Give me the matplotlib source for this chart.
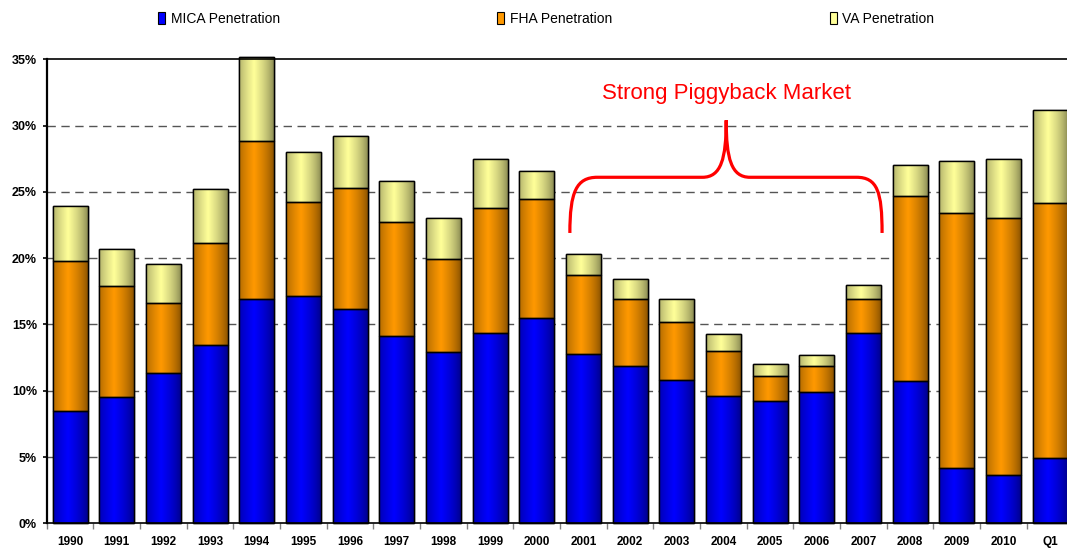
import numpy as np
import matplotlib
matplotlib.use("Agg")
import matplotlib.pyplot as plt
import matplotlib.patches as mpatches
from matplotlib.path import Path
from matplotlib.colors import to_rgb

plt.rcParams['font.family'] = ['Liberation Sans', 'DejaVu Sans']

years = ['1990', '1991', '1992', '1993', '1994', '1995', '1996', '1997', '1998', '1999', '2000',
         '2001', '2002', '2003', '2004', '2005', '2006', '2007', '2008', '2009', '2010', 'Q1']
mica = [8.5, 9.55, 11.35, 13.45, 16.95, 17.15, 16.15, 14.1, 12.9, 14.35, 15.5,
        12.8, 11.85, 10.8, 9.6, 9.2, 9.9, 14.35, 10.7, 4.15, 3.65, 4.9]
fha = [11.3, 8.35, 5.3, 7.7, 11.9, 7.1, 9.15, 8.6, 7.05, 9.4, 8.95,
       5.95, 5.1, 4.4, 3.4, 1.9, 1.95, 2.6, 14.0, 19.25, 19.35, 19.25]
va = [4.15, 2.8, 2.9, 4.05, 6.35, 3.75, 3.95, 3.1, 3.05, 3.75, 2.1,
      1.55, 1.5, 1.75, 1.25, 0.95, 0.85, 1.05, 2.3, 3.9, 4.5, 7.0]

series = [('MICA Penetration', mica, '#0000FF'),
          ('FHA Penetration', fha, '#FF9900'),
          ('VA Penetration', va, '#FFFF99')]

fig = plt.figure(figsize=(10.67, 5.48), dpi=100)
ax = fig.add_axes([0.0438, 0.0451, 0.9622, 0.8467])

x = np.arange(len(years))
w = 0.75

# horizontal shading profile used on every bar (dark edges, light centre-left)
t = np.linspace(0, 1, 64)
shade = 0.45 + 0.55 * np.clip(1 - np.abs(t - 0.42) / 0.58, 0, 1) ** 0.6

bottom = np.zeros(len(years))
handles = []
for name, vals, col in series:
    bars = ax.bar(x, vals, w, bottom=bottom, color=col, edgecolor='black',
                  linewidth=1, zorder=2, clip_on=False)
    rgb = np.array(to_rgb(col))
    grad = (shade[:, None] * rgb[None, :])[None, :, :]
    for p in bars:
        x0, y0, bw, bh = p.get_x(), p.get_y(), p.get_width(), p.get_height()
        im = ax.imshow(grad, extent=[x0, x0 + bw, y0, y0 + bh], aspect='auto',
                       interpolation='bilinear', zorder=2.1)
        im.set_clip_path(p)
    ax.bar(x, vals, w, bottom=bottom, fill=False, edgecolor='black',
           linewidth=1, zorder=3, clip_on=False)
    handles.append(mpatches.Patch(facecolor=col, edgecolor='black', linewidth=0.8, label=name))
    bottom = bottom + np.array(vals)

ax.set_xlim(-0.5, len(years) - 0.5)
ax.set_ylim(0, 35)

ax.set_yticks(np.arange(0, 36, 5))
ax.set_yticklabels(['%d%%' % v for v in range(0, 36, 5)], fontsize=9, fontweight='bold')
ax.tick_params(axis='y', direction='out', length=3, width=1.2, pad=4)

ax.set_xticks(x)
ax.set_xticklabels(years, fontsize=8.5, fontweight='bold')
ax.set_xticks(np.arange(-0.5, len(years), 1), minor=True)
ax.tick_params(axis='x', which='major', length=0, pad=9)
ax.tick_params(axis='x', which='minor', direction='out', length=4, width=1, color='#808080')

ax.set_axisbelow(True)
for yv in range(5, 35, 5):
    ax.axhline(yv, color='#555555', linestyle=(0, (6, 4)), linewidth=1, zorder=0.5)

ax.spines['left'].set_linewidth(1.6)
ax.spines['bottom'].set_linewidth(1.2)
ax.spines['top'].set_linewidth(1.2)
ax.spines['right'].set_visible(False)

# brace annotation
verts = [(10.71, 21.9), (10.71, 25.0), (10.85, 26.1), (11.3, 26.1),
         (13.55, 26.1),
         (13.95, 26.1), (14.06, 27.5), (14.06, 30.4),
         (14.06, 27.5), (14.17, 26.1), (14.57, 26.1),
         (16.85, 26.1),
         (17.3, 26.1), (17.4, 25.0), (17.4, 21.9)]
codes = [Path.MOVETO, Path.CURVE4, Path.CURVE4, Path.CURVE4,
         Path.LINETO,
         Path.CURVE4, Path.CURVE4, Path.CURVE4,
         Path.CURVE4, Path.CURVE4, Path.CURVE4,
         Path.LINETO,
         Path.CURVE4, Path.CURVE4, Path.CURVE4]
ax.add_patch(mpatches.PathPatch(Path(verts, codes), fill=False, edgecolor='red',
                                linewidth=2.3, zorder=4))
ax.text(14.06, 32.4, 'Strong Piggyback Market', color='red', fontsize=16,
        ha='center', va='center', zorder=4)

fig.legend(handles=handles, ncol=3, mode='expand', loc='lower left',
           bbox_to_anchor=(0.142, 0.94, 0.74, 0.0), frameon=False, borderpad=0,
           handlelength=0.5, handleheight=0.9, handletextpad=0.4,
           prop={'family': ['Liberation Sans Narrow', 'Liberation Sans'], 'size': 10})

fig.savefig('out.png', dpi=100)
